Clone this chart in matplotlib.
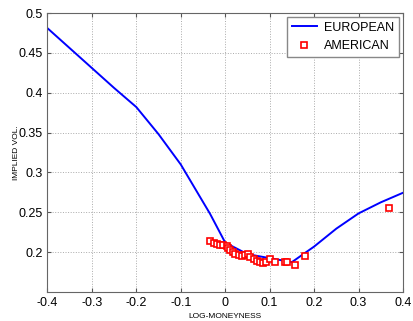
import numpy as np
import matplotlib
matplotlib.use("Agg")
from matplotlib import pyplot as plt

plt.rcParams['font.family'] = ['Liberation Sans', 'DejaVu Sans']

# european implied vol curve
eu_x = [-0.4, -0.3, -0.25, -0.2, -0.15, -0.1, -0.05, -0.034, 0.0, 0.05, 0.1, 0.15,
        0.2, 0.25, 0.3, 0.35, 0.4]
eu_vol = [0.481, 0.431, 0.406, 0.382, 0.348, 0.31, 0.263, 0.248, 0.212, 0.1975, 0.1925,
          0.1875, 0.207, 0.2295, 0.2486, 0.2625, 0.2745]

# american implied vols
am_x = [-0.034, -0.026, -0.019, -0.011, -0.004, 0.004, 0.007, 0.011, 0.017, 0.0225,
        0.030, 0.0375, 0.045, 0.051, 0.056, 0.064, 0.071, 0.079, 0.086, 0.092,
        0.101, 0.111, 0.135, 0.140, 0.158, 0.180, 0.369]
am_vol = [0.2142, 0.2117, 0.210, 0.209, 0.2087, 0.2083, 0.205, 0.2025, 0.200, 0.1983,
          0.1966, 0.1958, 0.1966, 0.1979, 0.1941, 0.1912, 0.189, 0.1875, 0.187, 0.1875,
          0.1912, 0.1878, 0.1878, 0.188, 0.1833, 0.1955, 0.2555]

fig = plt.figure(figsize=(4.13, 3.21), dpi=100)
ax = fig.add_axes([0.1148, 0.0903, 0.861, 0.8692])

ax.plot(eu_x, eu_vol, color='#0000ff', lw=1.4, label='EUROPEAN')
ax.plot(am_x, am_vol, ls='none', marker='s', ms=4, mfc='white', mec='#ff0000',
        mew=1.2, label='AMERICAN')

ax.set_xlim(-0.4, 0.4)
ax.set_ylim(0.15, 0.5)
ax.set_xticks(np.arange(-0.4, 0.41, 0.1))
ax.set_xticklabels(['-0.4', '-0.3', '-0.2', '-0.1', '0', '0.1', '0.2', '0.3', '0.4'])
ax.set_yticks([0.2, 0.25, 0.3, 0.35, 0.4, 0.45, 0.5])
ax.set_yticklabels(['0.2', '0.25', '0.3', '0.35', '0.4', '0.45', '0.5'])
ax.tick_params(direction='in', labelsize=9, color='#555555', length=3,
               top=True, right=True)
ax.grid(True, ls=':', color='#aaaaaa', lw=0.7)
for s in ax.spines.values():
    s.set_color('#666666')

ax.set_xlabel('LOG-MONEYNESS', fontsize=6, labelpad=3)
ax.set_ylabel('IMPLIED VOL.', fontsize=6, labelpad=-1)

leg = ax.legend(loc='upper right', fontsize=9, fancybox=False, framealpha=1,
                edgecolor='#888888', handlelength=2.0, handletextpad=0.6,
                borderaxespad=0.3)

fig.savefig('out.png', dpi=100)
